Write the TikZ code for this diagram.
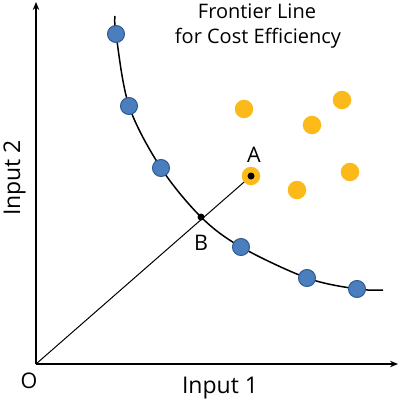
\documentclass[tikz,border=0pt]{standalone}
\usepackage{fontspec}
\setmainfont{Open Sans}
\usetikzlibrary{arrows.meta}
\definecolor{bluefill}{HTML}{4A7EBF}
\definecolor{blueedge}{HTML}{2E5A8E}
\definecolor{gold}{HTML}{FBBA1A}
\tikzset{
 axisline/.style={line width=1.4pt, -{Stealth[length=8pt,width=6.5pt]}},
 eff/.style={circle, fill=bluefill, draw=blueedge, line width=1pt, minimum size=17pt, inner sep=0pt},
 ineff/.style={circle, fill=gold, minimum size=18.5pt, inner sep=0pt},
 pt/.style={circle, fill=black, minimum size=7pt, inner sep=0pt},
 lbl/.style={font=\fontsize{20}{24}\selectfont, inner sep=0pt},
 ptlbl/.style={font=\fontsize{21.5}{25}\selectfont, inner sep=0pt},
 axlbl/.style={font=\fontsize{23}{27}\selectfont, inner sep=0pt},
}
\begin{document}
\begin{tikzpicture}[x=1pt,y=-1pt]
\useasboundingbox (0,0) rectangle (400,399);
% axes
\coordinate (O) at (36,364);
\coordinate (ytip) at (36,2);
\coordinate (xtip) at (398,364);
\draw[axisline] (O) -- (ytip);
\draw[axisline] (O) -- (xtip);
% curve points
\coordinate (cstart) at (115,16);
\coordinate (cend) at (383,290);
\coordinate (pB) at (201,217);
\coordinate (pA) at (251,176);
\coordinate (c1) at (116,34);
\coordinate (c2) at (129,106);
\coordinate (c3) at (161,168);
\coordinate (c4) at (241,247);
\coordinate (c5) at (307,278);
\coordinate (c6) at (357,289);
\draw[line width=1.5pt] plot[smooth, tension=0.55] coordinates {(cstart) (c1) (c2) (c3) (pB) (c4) (c5) (c6) (cend)};
% ray from origin
\draw[line width=1pt] (O) -- (pA);
% efficient units
\node[eff] (e1) at (c1) {};
\node[eff] (e2) at (c2) {};
\node[eff] (e3) at (c3) {};
\node[eff] (e4) at (c4) {};
\node[eff] (e5) at (c5) {};
\node[eff] (e6) at (c6) {};
% inefficient units
\node[ineff] (y1) at (244,109) {};
\node[ineff] (y2) at (342,100) {};
\node[ineff] (y3) at (312,125) {};
\node[ineff] (y4) at (350,172) {};
\node[ineff] (y5) at (297,190) {};
\node[ineff] (yA) at (pA) {};
% points A and B
\node[pt] (A) at (pA) {};
\node[pt] (B) at (pB) {};
% labels
\node[ptlbl, anchor=base] (la) at (254,162) {A};
\node[ptlbl, anchor=base] (lb) at (201,250) {B};
\node[ptlbl, anchor=base] (lo) at (29,388) {O};
\node[lbl, anchor=base] (t1) at (257,18) {Frontier Line};
\node[lbl, anchor=base] (t2) at (258,43) {for Cost Efficiency};
\node[axlbl, anchor=base] (x1) at (220,393) {Input 1};
\node[axlbl, anchor=base, rotate=90] (x2) at (20,178) {Input 2};
\end{tikzpicture}
\end{document}
